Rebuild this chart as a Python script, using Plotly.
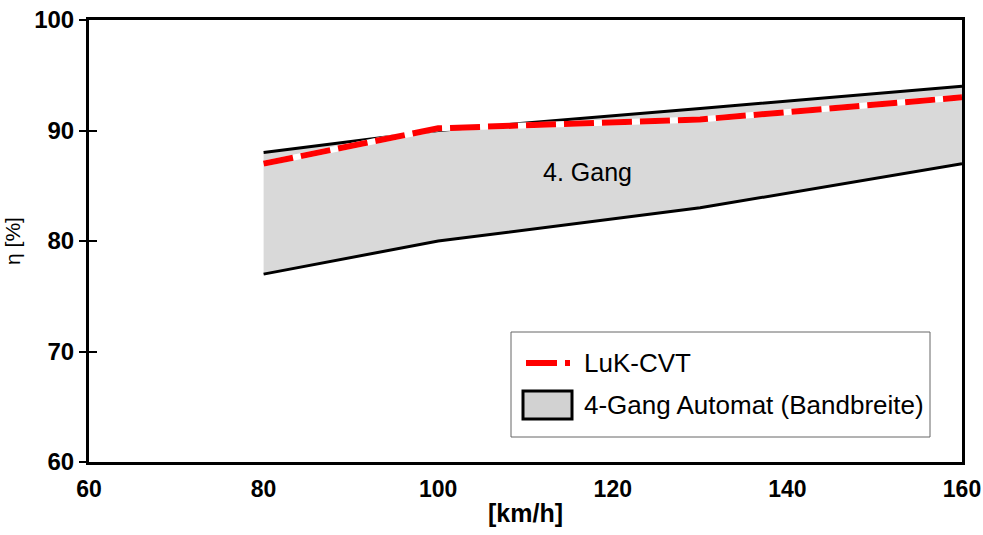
import plotly.graph_objects as go

speed = [80, 100, 130, 160]
band_upper = [88, 90, 92, 94]
band_lower = [77, 80, 83, 87]
cvt = [87, 90.2, 91, 93]

x_ticks = [60, 80, 100, 120, 140, 160]
y_ticks = [60, 70, 80, 90, 100]

legend_labels = ["LuK-CVT", "4-Gang Automat (Bandbreite)"]
band_label = "4. Gang"

FONT = "Liberation Sans, Arial, sans-serif"
W, H = 983, 535
ML, MR, MT, MB = 89, 21, 20, 73
PW, PH = W - ML - MR, H - MT - MB


def px(x):
    return (x - ML) / PW


def py(y):
    return (H - MB - y) / PH


fig = go.Figure()
fig.add_trace(go.Scatter(x=speed, y=band_lower, mode="lines",
                         line=dict(color="black", width=3),
                         showlegend=False, hoverinfo="skip"))
fig.add_trace(go.Scatter(x=speed, y=band_upper, mode="lines",
                         line=dict(color="black", width=3),
                         fill="tonexty", fillcolor="#d9d9d9",
                         name=legend_labels[1], showlegend=False))
fig.add_trace(go.Scatter(x=speed, y=cvt, mode="lines",
                         line=dict(color="white", width=6),
                         showlegend=False, hoverinfo="skip"))
fig.add_trace(go.Scatter(x=speed, y=cvt, mode="lines",
                         line=dict(color="#ff0000", width=6, dash="30px,8px"),
                         name=legend_labels[0], showlegend=False))
# overlay axis for inside half of crossing ticks
fig.add_trace(go.Scatter(x=[None], y=[None], yaxis="y2", showlegend=False))

fig.add_annotation(x=117.1, y=86.2, text=band_label, showarrow=False,
                   font=dict(family=FONT, size=25, color="black"))

# manual legend (box, symbols, labels)
shapes = [
    dict(type="rect", xref="paper", yref="paper",
         x0=px(511), x1=px(930), y0=py(437), y1=py(332),
         line=dict(color="#666666", width=1), fillcolor="white", layer="above"),
    dict(type="line", xref="paper", yref="paper",
         x0=px(526), x1=px(557), y0=py(363), y1=py(363),
         line=dict(color="#ff0000", width=6), layer="above"),
    dict(type="line", xref="paper", yref="paper",
         x0=px(565), x1=px(570), y0=py(363), y1=py(363),
         line=dict(color="#ff0000", width=6), layer="above"),
    dict(type="rect", xref="paper", yref="paper",
         x0=px(523), x1=px(572), y0=py(419), y1=py(391),
         line=dict(color="black", width=3), fillcolor="#d2d2d2", layer="above"),
]
for lab, yc in zip(legend_labels, [363, 405]):
    fig.add_annotation(xref="paper", yref="paper", x=px(582), y=py(yc),
                       xanchor="left", yanchor="middle", text=lab, showarrow=False,
                       font=dict(family=FONT, size=26, color="black"))

fig.update_layout(
    width=W, height=H,
    margin=dict(l=ML, r=MR, t=MT, b=MB),
    paper_bgcolor="white", plot_bgcolor="white",
    font=dict(family=FONT, color="black"),
    shapes=shapes,
    showlegend=False,
    xaxis=dict(range=[60, 160], tickvals=x_ticks, showgrid=False, zeroline=False,
               showline=True, linecolor="black", linewidth=3, mirror=True,
               ticks="", ticklabelstandoff=4, automargin=False,
               tickfont=dict(family=FONT, size=23, weight="bold"),
               title=dict(text="[km/h]", font=dict(family=FONT, size=25, weight="bold"),
                          standoff=4)),
    yaxis=dict(range=[60, 100], tickvals=y_ticks, showgrid=False, zeroline=False,
               showline=True, linecolor="black", linewidth=3, mirror=True,
               ticks="outside", ticklen=7, tickwidth=1.5, tickcolor="black",
               automargin=False,
               tickfont=dict(family=FONT, size=24, weight="bold"),
               title=dict(text="η [%]", font=dict(family=FONT, size=21), standoff=8)),
    yaxis2=dict(range=[60, 100], tickvals=y_ticks, overlaying="y", side="left",
                showgrid=False, zeroline=False, showline=False, automargin=False,
                ticks="inside", ticklen=8, tickwidth=1.5, tickcolor="black",
                showticklabels=False),
)

fig.write_html("out.html")
